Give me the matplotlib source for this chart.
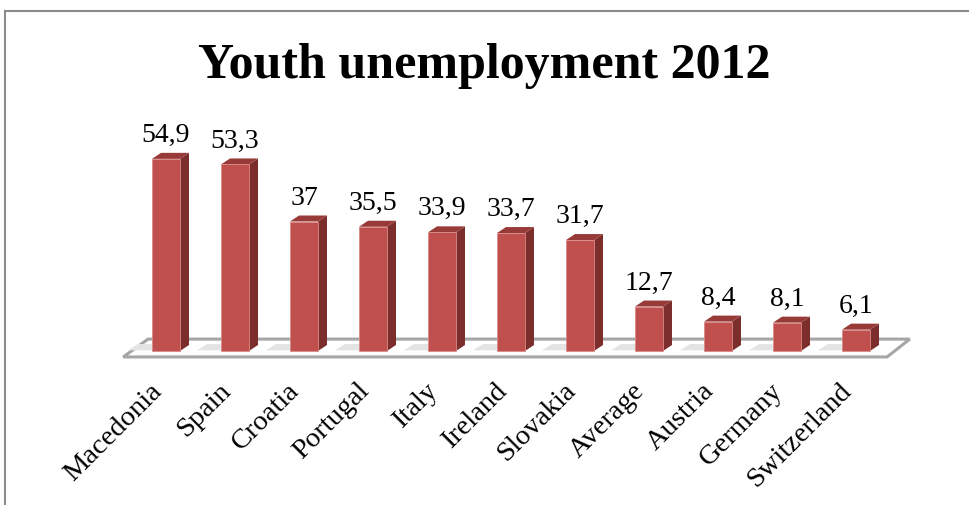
import matplotlib
matplotlib.use('Agg')
import matplotlib.pyplot as plt
from matplotlib.patches import Polygon
from matplotlib.lines import Line2D

# data
countries = ["Macedonia", "Spain", "Croatia", "Portugal", "Italy", "Ireland",
             "Slovakia", "Average", "Austria", "Germany", "Switzerland"]
rates = [54.9, 53.3, 37, 35.5, 33.9, 33.7, 31.7, 12.7, 8.4, 8.1, 6.1]
labels = ["54,9", "53,3", "37", "35,5", "33,9", "33,7", "31,7", "12,7", "8,4", "8,1", "6,1"]

W, H = 969, 506
fig = plt.figure(figsize=(W / 100, H / 100), dpi=100)
ax = fig.add_axes([0, 0, 1, 1])
n = len(countries)

# pixel layout: bar centres 166 + 69*i, base at y=352, 3.5 px per unit
x0, step, base, ppu = 166, 69, 352, 3.5
ax.set_xlim((0 - x0) / step, (W - x0) / step)
ax.set_ylim((base - H) / ppu, base / ppu)
ax.axis('off')

serif = ['Liberation Serif', 'DejaVu Serif']
front = '#C0504D'
side = '#7B2E2C'
top = '#983A37'
bw = 28 / step
dx, dy = 9 / step, 6 / ppu

# floor
fl = [(-0.62, -1.7), (n - 1 + 0.45, -1.7), (n - 1 + 0.78, 3.4), (-0.26, 3.4)]
ax.add_patch(Polygon(fl, closed=True, facecolor='white', edgecolor='#A6A6A6', lw=2.2, zorder=1))
for i in range(n):
    sh = [(i - bw / 2 - 0.35, 0.2), (i + bw / 2 - 0.1, 0.2), (i + bw / 2, 2.0), (i - bw / 2 - 0.2, 2.0)]
    ax.add_patch(Polygon(sh, closed=True, facecolor='#E4E4E4', edgecolor='none', zorder=1.5))

bars = ax.bar(range(n), rates, width=bw, color=front, edgecolor='#D98A88', lw=0.6, zorder=3)
for i, (b, v) in enumerate(zip(bars, rates)):
    l, r = b.get_x(), b.get_x() + b.get_width()
    ax.add_patch(Polygon([(r, 0), (r + dx, dy), (r + dx, v + dy), (r, v)],
                         closed=True, facecolor=side, edgecolor='none', zorder=2.5))
    ax.add_patch(Polygon([(l, v), (r, v), (r + dx, v + dy), (l + dx, v + dy)],
                         closed=True, facecolor=top, edgecolor='none', zorder=2.5))
    ax.annotate(labels[i], (i, v + dy), xytext=(0, 8.6), textcoords='offset points',
                ha='center', va='baseline', fontsize=20, family=serif, color='black')
    ax.text(i - 0.05, -11.4, countries[i], rotation=45, rotation_mode='anchor',
            ha='right', va='baseline', fontsize=20.5, family=serif)

fig.text(0.5, (H - 78) / H, "Youth unemployment 2012", ha='center', va='baseline',
         fontsize=36, fontweight='bold', family=serif)

# chart frame (top and left edges visible)
fig.add_artist(Line2D([5 / W, 1], [(H - 12) / H] * 2, color='#8C8C8C', lw=1.5))
fig.add_artist(Line2D([5 / W] * 2, [0, (H - 12) / H], color='#8C8C8C', lw=1.5))

fig.savefig('out.png', dpi=100)
